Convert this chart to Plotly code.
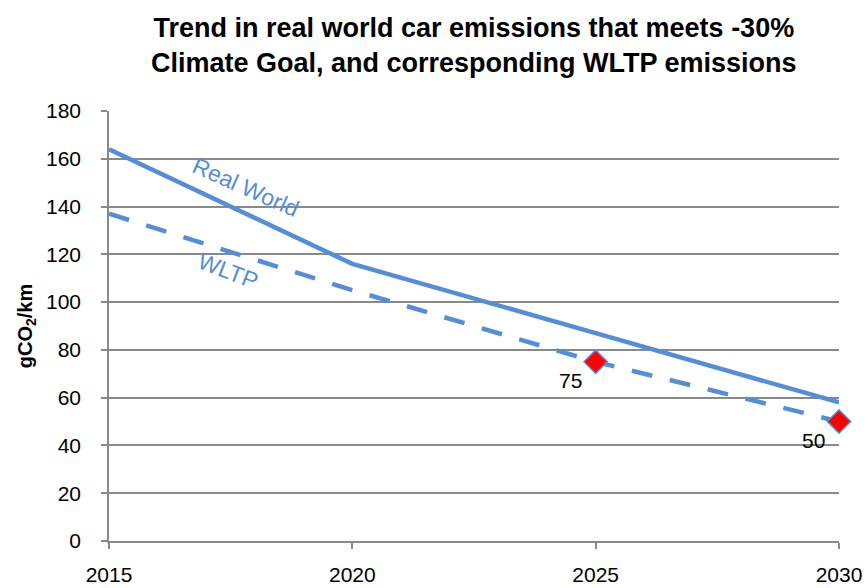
import plotly.graph_objects as go

years = [2015, 2020, 2025, 2030]
real_world = [164, 116, 87, 58]
wltp = [137, 105, 75, 50]
target_years = [2025, 2030]
target_values = [75, 50]
target_labels = ["75", "50"]

BLUE = "#558ED5"
GRID = "#898989"
FONT = "Liberation Sans"

fig = go.Figure()

fig.add_trace(go.Scatter(
    x=years, y=real_world, mode="lines", name="Real World",
    line=dict(color=BLUE, width=4.5),
))
fig.add_trace(go.Scatter(
    x=years, y=wltp, mode="lines", name="WLTP",
    line=dict(color=BLUE, width=4.5, dash="21px,18px"),
))
fig.add_trace(go.Scatter(
    x=target_years, y=target_values, mode="markers", name="Target",
    marker=dict(symbol="diamond", size=18, color="#FF0000",
                line=dict(color=BLUE, width=1.5)),
    cliponaxis=False,
))

for xv, yv, txt in zip(target_years, target_values, target_labels):
    fig.add_annotation(x=xv, y=yv, text=txt, showarrow=False,
                       xanchor="right", yanchor="top", xshift=-12, yshift=-5,
                       font=dict(family=FONT, size=21, color="#000000"))

fig.add_annotation(x=2017.8, y=148, text="Real World", showarrow=False,
                   textangle=24, font=dict(family=FONT, size=23, color=BLUE))
fig.add_annotation(x=2017.45, y=113, text="WLTP", showarrow=False,
                   textangle=21, font=dict(family=FONT, size=23, color=BLUE))

fig.add_annotation(
    xref="paper", yref="paper", x=0.5, y=1.153, xanchor="center", yanchor="middle",
    text="<b>Trend in real world car emissions that meets -30%<br>Climate Goal, and corresponding WLTP emissions</b>",
    showarrow=False, font=dict(family=FONT, size=27, color="#000000"),
)

fig.update_layout(
    width=868, height=588,
    margin=dict(l=109, r=29, t=111, b=47),
    paper_bgcolor="white", plot_bgcolor="white",
    showlegend=False,
)

fig.update_xaxes(
    range=[2015, 2030], tickvals=years, ticktext=[str(y) for y in years],
    showgrid=False, zeroline=False, automargin=False,
    showline=True, linecolor=GRID, linewidth=1.5,
    ticks="outside", ticklen=6, tickcolor=GRID, tickwidth=1.5,
    ticklabelstandoff=8,
    tickfont=dict(family=FONT, size=21, color="#000000"),
)
fig.update_yaxes(
    range=[0, 180], dtick=20, automargin=False,
    showgrid=True, gridcolor=GRID, gridwidth=1.5, zeroline=False,
    showline=True, linecolor=GRID, linewidth=1.5,
    ticks="outside", ticklen=6, tickcolor=GRID, tickwidth=1.5,
    ticklabelstandoff=16,
    tickfont=dict(family=FONT, size=21, color="#000000"),
    title=dict(text="<b>gCO<sub>2</sub>/km</b>", standoff=8,
               font=dict(family=FONT, size=20, color="#000000")),
)

fig.write_html("out.html")
